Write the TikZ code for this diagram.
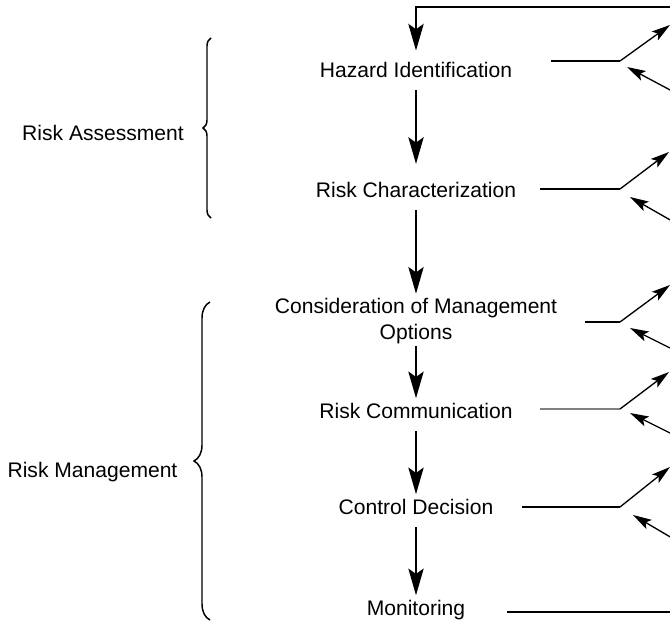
\documentclass[tikz,border=0pt]{standalone}
\usepackage{fontspec}
\setmainfont{Liberation Sans}
\usetikzlibrary{arrows.meta,decorations.pathreplacing}

\begin{document}
\begin{tikzpicture}[
    x=0.75pt, y=-0.75pt,
    stage/.style={font=\fontsize{15.8}{19.5}\selectfont, text height=0.75em, text depth=0.2em, inner xsep=5pt, inner ysep=7.5pt, anchor=base, align=center},
    group/.style={font=\fontsize{15.8}{19.5}\selectfont, anchor=base},
    flow/.style={-{Stealth[length=20pt, width=11.5pt, inset=4pt]}, line width=1.1pt},
    feedback/.style={flow, line width=1.6pt},
    branch/.style={line width=1.1pt},
    sidearrow/.style={-{Stealth[length=14pt, width=8pt, inset=3pt]}, line width=1pt},
    bracket/.style={decorate, decoration={brace, amplitude=#1}, line width=1.1pt},
]
    \path[use as bounding box, fill=white] (0,0) rectangle (670,624);

    % Process chain
    \node[stage] (haz) at (416,77.5) {Hazard Identification};
    \node[stage] (char) at (416,197.5) {Risk Characterization};
    \node[stage, text height=31.35pt, inner ysep=2.8pt] (consider) at (416,339.5) {Consideration of Management\\Options};
    \node[stage] (comm) at (416,418.5) {Risk Communication};
    \node[stage] (decide) at (416,514.5) {Control Decision};
    \node[stage] (monitor) at (416,615.5) {Monitoring};
    \draw[flow, shorten >=10pt] (haz) -- (char);
    \draw[flow] (char) -- (consider);
    \draw[flow] (consider) -- (comm);
    \draw[flow] (comm) -- (decide);
    \draw[flow] (decide) -- (monitor);

    % Feedback loop
    \coordinate (monA) at (507,612);
    \draw[feedback, shorten >=5pt] (monA) -| (700,7) -| (haz.north);

    % Side branches
    \coordinate (hazA) at (551,61);
    \coordinate (hazB) at (620,61);
    \coordinate (hazOut) at (670,25);
    \coordinate (hazIn) at (672,91);
    \coordinate (hazTip) at (627,67);
    \draw[branch] (hazA) -- (hazB);
    \draw[sidearrow] (hazB) -- (hazOut);
    \draw[sidearrow] (hazIn) -- (hazTip);

    \coordinate (charA) at (540,189);
    \coordinate (charB) at (620,189);
    \coordinate (charOut) at (669,152);
    \coordinate (charIn) at (672,221);
    \coordinate (charTip) at (630,197);
    \draw[branch] (charA) -- (charB);
    \draw[sidearrow] (charB) -- (charOut);
    \draw[sidearrow] (charIn) -- (charTip);

    \coordinate (considerA) at (585,322);
    \coordinate (considerB) at (620,322);
    \coordinate (considerOut) at (670,285);
    \coordinate (considerIn) at (672,349);
    \coordinate (considerTip) at (630,328);
    \draw[branch] (considerA) -- (considerB);
    \draw[sidearrow] (considerB) -- (considerOut);
    \draw[sidearrow] (considerIn) -- (considerTip);

    \coordinate (commA) at (540,409);
    \coordinate (commB) at (620,409);
    \coordinate (commOut) at (669,372);
    \coordinate (commIn) at (672,434);
    \coordinate (commTip) at (630,413);
    \draw[branch, gray] (commA) -- (commB);
    \draw[sidearrow] (commB) -- (commOut);
    \draw[sidearrow] (commIn) -- (commTip);

    \coordinate (decideA) at (522,507);
    \coordinate (decideB) at (620,507);
    \coordinate (decideOut) at (670,467);
    \coordinate (decideIn) at (672,538);
    \coordinate (decideTip) at (633,515);
    \draw[branch, line width=0.8pt] (decideA) -- (decideB);
    \draw[sidearrow] (decideB) -- (decideOut);
    \draw[sidearrow] (decideIn) -- (decideTip);

    % Group labels
    \node[group] (assess) at (103,140.5) {Risk Assessment};
    \node[group] (manage) at (92.5,477.5) {Risk Management};
    \draw[bracket=6pt] (211,218) -- (211,38);
    \draw[bracket=12pt] (210,620) -- (210,302);
\end{tikzpicture}
\end{document}
